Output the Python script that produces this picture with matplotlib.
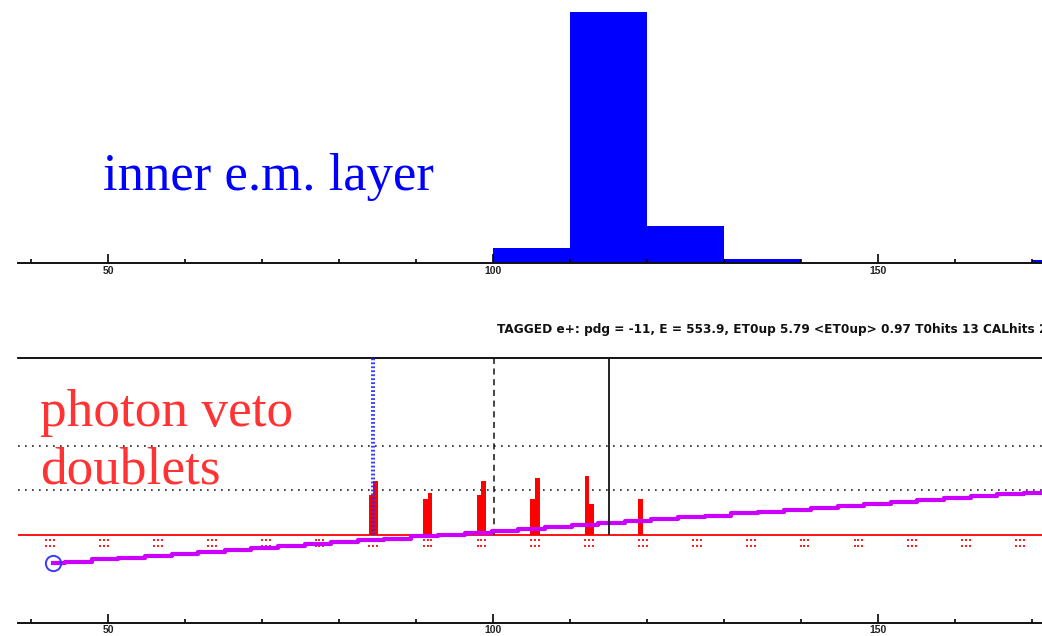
import matplotlib
matplotlib.use("Agg")
import matplotlib.pyplot as plt
from matplotlib.ticker import FixedLocator, MultipleLocator

# --- data ---
# inner e.m. layer histogram (bin left edges, bin width 10)
em_bins = [100, 110, 120, 130, 170]
em_vals = [5.9, 95.4, 14.2, 1.7, 1.5]

# photon veto doublets: centre of each doublet and the two half heights
veto_centres = [84.45, 91.5, 98.5, 105.45, 112.5, 119.5]
veto_left = [0.90, 0.81, 0.90, 0.81, 1.33, 0.81]
veto_right = [1.21, 0.95, 1.21, 1.28, 0.69, 0.0]

# all doublet positions (little red dot marks under the baseline)
doublet_pos = [42.45, 49.5, 56.45, 63.5, 70.5, 77.45, 84.45, 91.5, 98.5, 105.45,
               112.45, 119.5, 126.45, 133.5, 140.45, 147.45, 154.4, 161.45, 168.45]

# threshold staircase
thr_x = [42.9, 44.4, 47.9, 51.3, 54.8, 58.3, 61.7, 65.2, 68.6, 72.1, 75.6, 79.0,
         82.5, 85.9, 89.4, 92.9, 96.3, 99.8, 103.2, 106.7, 110.2, 113.6, 117.1,
         120.5, 124.0, 127.5, 130.9, 134.4, 137.8, 141.3, 144.8, 148.2, 151.7,
         155.1, 158.6, 162.1, 165.5, 169.0, 173.0]
thr_y = [-0.65, -0.61, -0.56, -0.52, -0.48, -0.43, -0.39, -0.35, -0.30, -0.26,
         -0.22, -0.17, -0.13, -0.09, -0.04, 0.00, 0.04, 0.09, 0.13, 0.17, 0.22,
         0.26, 0.30, 0.35, 0.39, 0.43, 0.48, 0.52, 0.56, 0.61, 0.65, 0.69, 0.74,
         0.78, 0.82, 0.87, 0.91, 0.95, 0.95]

t0_line = 84.4      # blue dotted
dash_line = 100.1   # black dashed
solid_line = 115.1  # black solid
dotted_levels = [1, 2]

header = "TAGGED e+: pdg = -11, E = 553.9, ET0up 5.79 <ET0up> 0.97 T0hits 13 CALhits 27"

W, H = 1042, 636
fig = plt.figure(figsize=(W / 100, H / 100), dpi=100)
xlo, xhi = 38.3, 171.3


def px(x0, y0, x1, y1):
    # pixel box (top-left origin) -> figure rect
    return [x0 / W, 1 - y1 / H, (x1 - x0) / W, (y1 - y0) / H]


def style_axis(ax):
    for s in ["left", "right", "top"]:
        ax.spines[s].set_visible(False)
    ax.spines["bottom"].set_linewidth(1.4)
    ax.spines["bottom"].set_color("#111111")
    ax.set_yticks([])
    ax.set_xlim(xlo, xhi)
    ax.xaxis.set_major_locator(FixedLocator([50, 100, 150]))
    ax.xaxis.set_minor_locator(MultipleLocator(10))
    ax.tick_params(axis="x", which="major", direction="in", length=6.5, width=1.2,
                   pad=1.5, labelsize=7.5)
    ax.tick_params(axis="x", which="minor", direction="in", length=3, width=1.2)
    for lab in ax.get_xticklabels():
        lab.set_fontweight("bold")
        lab.set_family("Liberation Sans")
        lab.set_color("#222222")


# top panel
ax1 = fig.add_axes(px(18, 0, W, 263.5))
ax1.bar(em_bins, em_vals, width=10, align="edge", color="#0000ff", edgecolor="none")
ax1.set_ylim(0, 100)
style_axis(ax1)

# bottom panel
ax2 = fig.add_axes(px(18, 358, W, 623))
ax2.set_ylim(-2, 4)
style_axis(ax2)
ax2.spines["top"].set_visible(True)
ax2.spines["top"].set_linewidth(1.3)

for lev in dotted_levels:
    ax2.axhline(lev, color="#222222", lw=1.2, ls=(0, (1, 3.2)), zorder=1)
ax2.axhline(0, color="#ff0000", lw=1.3, zorder=2)

bw = 0.62
ax2.bar([c - bw / 2 for c in veto_centres], veto_left, width=bw, color="#ff0000",
        edgecolor="none", zorder=3)
ax2.bar([c + bw / 2 for c in veto_centres], veto_right, width=bw, color="#ff0000",
        edgecolor="none", zorder=3)

dx = [-0.5, 0.0, 0.5]
for row in [-0.13, -0.25]:
    xs = [p + d for p in doublet_pos for d in dx]
    ax2.scatter(xs, [row] * len(xs), s=2.2, marker="s", color="#ff2020",
                linewidths=0, zorder=3)

ax2.vlines([t0_line - 0.13, t0_line + 0.13], 0, 4, colors="#2a2aff", lw=1.3,
           linestyles=[(0, (1, 1.2))], zorder=4)
ax2.vlines(dash_line, 0, 4, colors="#111111", lw=1.1, linestyles=[(0, (4, 3))],
           zorder=4)

ax2.step(thr_x, thr_y, where="post", color="#cc00ff", lw=3.0, zorder=5)
ax2.plot(thr_x[0], thr_y[0], "o", ms=11, mfc="none", mec="#3a3aff", mew=1.4,
         zorder=6)
ax2.vlines(solid_line, 0, 4, colors="#111111", lw=1.3, zorder=6)

# labels
fig.text(103 / W, 1 - 189.5 / H, "inner e.m. layer", color="#0000ff",
         family="Liberation Serif", fontsize=38, va="baseline", ha="left")
fig.text(40.5 / W, 1 - 426 / H, "photon veto", color="#ff3333",
         family="Liberation Serif", fontsize=38.3, va="baseline", ha="left")
fig.text(40.5 / W, 1 - 483 / H, "doublets", color="#ff3333",
         family="Liberation Serif", fontsize=38.3, va="baseline", ha="left")
# header runs off the right edge, as in the original crop
fig.text(497 / W, 1 - 333 / H, header, color="#111111", family="DejaVu Sans",
         fontsize=8.75, fontweight="bold", va="baseline", ha="left")

fig.savefig("out.png", dpi=100)
